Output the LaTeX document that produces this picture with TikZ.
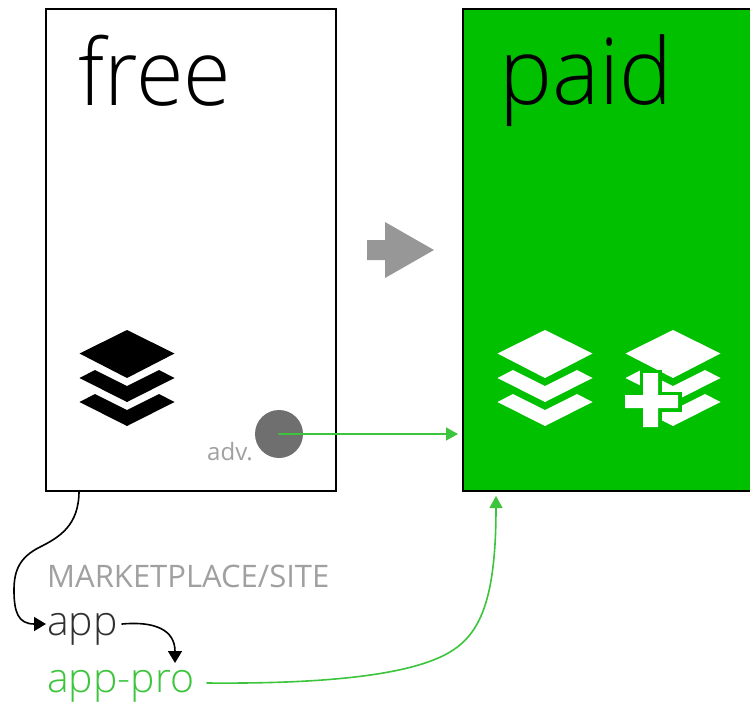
\documentclass[tikz,border=0pt]{standalone}
\usepackage{fontspec}
\setmainfont{Open Sans Light}
\newfontfamily\softfont{Open Sans}
\usetikzlibrary{calc,arrows.meta}
\definecolor{paidgreen}{HTML}{00C000}
\definecolor{linegreen}{HTML}{3CC43C}
\definecolor{softgray}{HTML}{A0A0A0}
\definecolor{dotgray}{HTML}{6F6F6F}
\definecolor{arrowgray}{HTML}{979797}
\definecolor{inkgray}{HTML}{303030}
\newcommand{\szd}[1]{\fontsize{#1}{#1}\selectfont}
\tikzset{
  panel/.style={draw=black,line width=2.2pt,outer sep=0pt,inner sep=0pt,anchor=north west},
  label/.style={inner sep=0pt,anchor=base west},
  conn/.style={line width=1.6pt,line cap=round},
  blacktip/.style={-{Triangle[length=12pt,width=14pt]}},
  greentip/.style={-{Triangle[length=12pt,width=13pt]}},
}
\newcommand{\stackicon}[3]{%
  \fill[#3,shift={(#1,#2)}] (0,0) -- (47.5,23.5) -- (0,48) -- (-47.5,23.5) -- cycle;
  \fill[#3,shift={(#1,#2)}] (-47.5,48) -- (-32,40) -- (0,56) -- (32,40) -- (47.5,48) -- (0,72) -- cycle;
  \fill[#3,shift={(#1,#2)}] (-47.5,72) -- (-32,64) -- (0,80) -- (32,64) -- (47.5,72) -- (0,96) -- cycle;
}
\begin{document}
\begin{tikzpicture}[x=1pt,y=-1pt]
\useasboundingbox (0,0) rectangle (750,702);
\node[panel,fill=white,minimum width=290pt,minimum height=482pt] (free) at (46,9) {};
\node[panel,fill=paidgreen,minimum width=290pt,minimum height=482pt] (paid) at (463,9) {};
\node[label,text=black] (freetxt) at (78,105) {\szd{92}\scalebox{.94}[1]{free}};
\node[label,text=black] (paidtxt) at (499,104) {\szd{92}\scalebox{.97}[1]{paid}};
\stackicon{127}{330}{black}
\stackicon{545}{330}{white}
\stackicon{673}{330}{white}
% plus sign with halo
\path[draw=paidgreen,line width=7pt,line join=miter]
  (643,373) -- (658,373) -- (658,395) -- (678,395) -- (678,408) -- (658,408) -- (658,427) -- (643,427) -- (643,408) -- (625,408) -- (625,395) -- (643,395) -- cycle;
\fill[white]
  (643,373) -- (658,373) -- (658,395) -- (678,395) -- (678,408) -- (658,408) -- (658,427) -- (643,427) -- (643,408) -- (625,408) -- (625,395) -- (643,395) -- cycle;
% big arrow
\fill[arrowgray] (367,240) -- (385,240) -- (385,222) -- (434,250) -- (385,278) -- (385,260) -- (367,260) -- cycle;
% advertisement dot
\node[circle,fill=dotgray,minimum size=48pt,inner sep=0pt] (adv) at (279,434) {};
\node[label,text=softgray] (advtxt) at (207,460) {\softfont\szd{24}adv.};
\node[label,text=softgray] (market) at (47,587) {\softfont\szd{31}MARKETPLACE/SITE};
\node[label,text=inkgray] (app) at (47,635) {\szd{41}app};
\node[label,text=linegreen] (apppro) at (47,692) {\szd{41}app-pro};
\coordinate (advend) at (458,434);
\coordinate (freeout) at (79,491);
\coordinate (appin) at (46,624);
\coordinate (appout) at (122,624);
\coordinate (proin) at (175,663);
\coordinate (proout) at (207,683);
\coordinate (paidin) at (496,496);
\draw[conn,linegreen,greentip] (adv.center) -- (advend);
\draw[conn,black,blacktip] (freeout) .. controls (79,525) and (60,537) .. (40,547)
  .. controls (20,557) and (14,570) .. (14,590)
  .. controls (14,612) and (18,624) .. (appin);
\draw[conn,black,blacktip] (appout) .. controls (155,621) and (175,630) .. (proin);
\draw[conn,linegreen,greentip] (proout) .. controls (320,684) and (410,676) .. (450,652)
  .. controls (480,634) and (496,600) .. (paidin);
\end{tikzpicture}
\end{document}
